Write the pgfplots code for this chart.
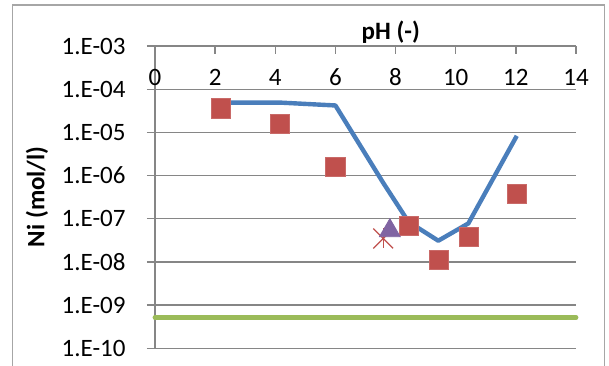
\documentclass[border=0pt]{standalone}
\usepackage{fontspec}
\setmainfont{Carlito}
\usepackage{pgfplots}
\pgfplotsset{compat=1.18}
\definecolor{gridgray}{HTML}{868686}
\definecolor{exblue}{HTML}{4A7EBB}
\definecolor{exred}{HTML}{C0504D}
\definecolor{expurple}{HTML}{8064A2}
\definecolor{exgreen}{HTML}{9BBB59}
\definecolor{framegray}{HTML}{A6A6A6}
\begin{document}
\begin{tikzpicture}
\draw[framegray, line width=0.6pt] (6.35pt,-183pt) -- (6.35pt,-2.5pt) -- (302.15pt,-2.5pt) -- (302.15pt,-183pt);
\begin{axis}[
  at={(77.5pt,-174.15pt)}, anchor=south west,
  scale only axis, width=210.5pt, height=151.15pt,
  xmin=0, xmax=14, ymode=log, ymin=1e-10, ymax=1e-3,
  axis x line*=top, axis y line*=left,
  axis line style={gridgray, line width=0.65pt},
  ymajorgrids, grid style={gridgray, line width=0.65pt},
  xtick={0,2,...,14}, xticklabels={0,2,4,6,8,10,12,14},
  ytick={1e-10,1e-9,1e-8,1e-7,1e-6,1e-5,1e-4,1e-3},
  yticklabels={1.E-10,1.E-09,1.E-08,1.E-07,1.E-06,1.E-05,1.E-04,1.E-03},
  yminorticks=false, xminorticks=false,
  tick align=center, major tick length=4pt,
  tick style={gridgray, line width=0.65pt},
  xtick style={yshift=-2pt}, ytick style={xshift=-2pt},
  ticklabel style={font=\fontsize{12.5}{15}\selectfont, text=black},
  xticklabel style={anchor=base, inner sep=0pt, yshift=-21.65pt},
  yticklabel style={anchor=east, inner sep=0pt, xshift=-12.5pt},
  xlabel={\textbf{pH (-)}}, ylabel={\textbf{Ni (mol/l)}},
  label style={font=\fontsize{12.5}{15}\selectfont, inner sep=0pt},
  xlabel style={at={(axis description cs:0.560,1.0463)}, anchor=center},
  ylabel style={at={(axis description cs:-0.2803,0.5015)}, anchor=center},
  clip=false,
]
\addplot[exblue, line width=2.2pt, line join=round, no marks] coordinates {
 (2.2,4.9e-5) (4.15,4.9e-5) (6.0,4.2e-5) (7.6,6.6e-7) (8.43,8.5e-8)
 (9.42,3.1e-8) (10.42,7.8e-8) (12.03,8.3e-6)};
\addplot[only marks, mark=square*, mark size=4.8pt,
  mark options={fill=exred, draw=exred!85!white, line width=0.4pt}] coordinates {
 (2.2,3.6e-5) (4.15,1.58e-5) (6.0,1.6e-6) (8.44,6.8e-8) (9.43,1.1e-8)
 (10.44,3.8e-8) (12.03,3.8e-7)};
\addplot[only marks, mark=x, mark size=7pt, mark options={draw=exred, line width=0.6pt}]
 coordinates {(7.59,3.5e-8)};
\addplot[only marks, mark=|, mark size=5pt, mark options={draw=exred, line width=0.6pt}]
 coordinates {(7.59,3.5e-8)};
\addplot[only marks, mark=triangle*, mark size=6pt,
  mark options={fill=expurple, draw=expurple}] coordinates {(7.81,5.3e-8)};
\addplot[exgreen, line width=2.4pt, line cap=round, no marks] coordinates {(0,5.2e-10) (14,5.2e-10)};
\end{axis}
\pgfresetboundingbox
\useasboundingbox (0,0) rectangle (304.5pt,-182.5pt);
\end{tikzpicture}
\end{document}
